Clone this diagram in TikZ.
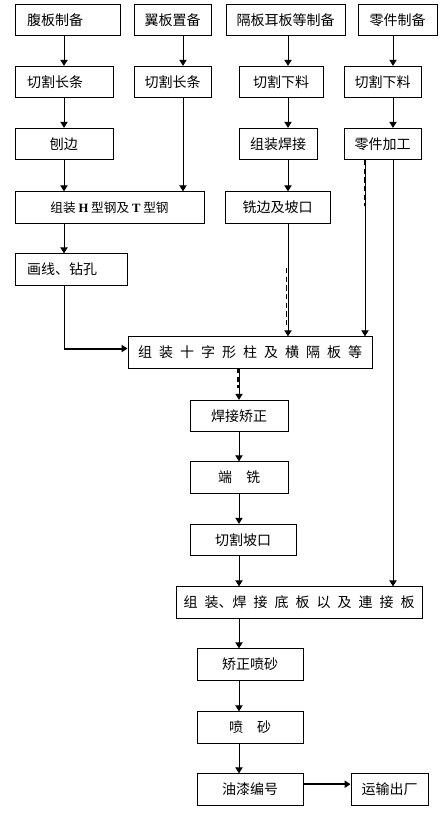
\documentclass[tikz,border=0pt]{standalone}
\usepackage{fontspec}
\setmainfont{Noto Sans CJK SC}
\newfontfamily\romanfont{Liberation Serif}
\usetikzlibrary{arrows.meta}

\begin{document}
\begin{tikzpicture}[x=0.75pt,y=-0.75pt,
  box/.style={draw,line width=0.75pt,minimum height=23.5pt,inner sep=0pt,font=\fontsize{10.5}{12}\selectfont},
  lbox/.style={box,align=left,inner xsep=9pt},
  wide/.style={box,execute at begin node={\spaceskip=0.5em\relax}},
  flow/.style={line width=0.75pt,-{Triangle[width=5.5pt,length=4.5pt]}},
  heavy/.style={flow,line width=1.5pt},
  smear/.style={line width=1.2pt,dash pattern=on 4pt off 2.5pt}]
  \useasboundingbox (0,0) rectangle (448,819);
  % columns of the vertical runs
  \coordinate (c1) at (64,0); \coordinate (c2) at (183,0); \coordinate (c3) at (288,0);
  \coordinate (c4) at (393,0); \coordinate (c4d) at (365,0); \coordinate (c5) at (239,0);

  \node[lbox,text width=60.75pt] (web) at (67.5,20) {腹板制备};
  \node[box,minimum width=57.75pt] (flange) at (172.5,20) {翼板置备};
  \node[box,minimum width=89.25pt] (diaph) at (285.5,20) {隔板耳板等制备};
  \node[box,minimum width=59.25pt] (parts) at (397.5,20) {零件制备};

  \node[lbox,text width=55.5pt] (cutA) at (64,82) {切割长条};
  \node[box,minimum width=57.75pt] (cutB) at (172.5,82) {切割长条};
  \node[box,minimum width=63pt] (cutC) at (281,82) {切割下料};
  \node[box,minimum width=57.75pt] (cutD) at (382.5,82) {切割下料};

  \node[box,minimum width=73.5pt] (plane) at (64,144) {刨边};
  \node[box,minimum width=58.5pt] (weldC) at (278,144) {组装焊接};
  \node[box,minimum width=57.75pt] (machD) at (382.5,144) {零件加工};

  \node[box,minimum width=141.75pt,font=\fontsize{9.5}{11}\selectfont] (asmHT) at (109.5,207.5)
    {组装 {\romanfont\bfseries H} 型钢及 {\romanfont\bfseries T} 型钢};
  \node[box,minimum width=78.75pt] (mill) at (277.5,207.5) {铣边及坡口};
  \node[lbox,text width=66pt] (mark) at (71,269.5) {画线、钻孔};

  \node[wide,minimum width=183pt] (cross) at (250,352.5) {组 装 十 字 形 柱 及 横 隔 板 等};
  \node[box,minimum width=73.5pt] (weld) at (239,416) {焊接矫正};
  \node[box,minimum width=73.5pt] (endmill) at (239,477.5) {端\quad 铣};
  \node[box,minimum width=79.5pt] (cutbev) at (243,540) {切割坡口};
  \node[wide,minimum width=184.5pt] (base) at (299,602.5) {组 装、焊 接 底 板 以 及 連 接 板};
  \node[box,minimum width=79.5pt] (blast1) at (250,664.5) {矫正喷砂};
  \node[box,minimum width=79.5pt] (blast2) at (250,727.5) {喷\quad 砂};
  \node[box,minimum width=79.5pt] (paint) at (250,789.5) {油漆编号};
  \node[box,minimum width=57.75pt] (ship) at (389.5,789.5) {运输出厂};

  \draw[flow] (web.south -| c1) -- (cutA.north);
  \draw[flow] (flange.south -| c2) -- (cutB.north -| c2);
  \draw[flow] (diaph.south -| c3) -- (cutC.north -| c3);
  \draw[flow] (parts.south -| c4) -- (cutD.north -| c4);
  \draw[flow] (cutA.south) -- (plane.north);
  \draw[flow] (cutB.south -| c2) -- (asmHT.north -| c2);
  \draw[flow] (cutC.south -| c3) -- (weldC.north -| c3);
  \draw[flow] (cutD.south -| c4) -- (machD.north -| c4);
  \draw[flow] (plane.south) -- (asmHT.north -| c1);
  \draw[flow] (weldC.south -| c3) -- (mill.north -| c3);
  \draw[flow] (asmHT.south -| c1) -- (mark.north -| c1);
  \coordinate (knee) at ([yshift=3pt]cross.west);
  \draw[line width=0.75pt] (mark.south -| c1) -- (knee -| c1);
  \draw[heavy] (knee -| c1) -- (knee);
  \draw[flow] (mill.south -| c3) -- (cross.north -| c3);
  \draw[flow] (machD.south -| c4d) -- (cross.north -| c4d);
  \draw[flow] (machD.south -| c4) -- (base.north -| c4);
  \draw[flow] (cross.south -| c5) -- (weld.north);
  \draw[flow] (weld.south) -- (endmill.north);
  \draw[flow] (endmill.south) -- (cutbev.north -| c5);
  \draw[flow] (cutbev.south -| c5) -- (base.north -| c5);
  \draw[flow] (base.south -| c5) -- (blast1.north -| c5);
  \draw[flow] (blast1.south -| c5) -- (blast2.north -| c5);
  \draw[flow] (blast2.south -| c5) -- (paint.north -| c5);
  \coordinate (exit) at ([yshift=4pt]paint.east);
  \draw[heavy] (exit) -- (exit -| ship.west);
  % rough double strokes on some runs
  \draw[smear] (286.5,268) -- (286.5,325);
  \draw[smear] (364.5,160) -- (364.5,206);
  \draw[smear] (238,368) -- (238,388);
\end{tikzpicture}
\end{document}
